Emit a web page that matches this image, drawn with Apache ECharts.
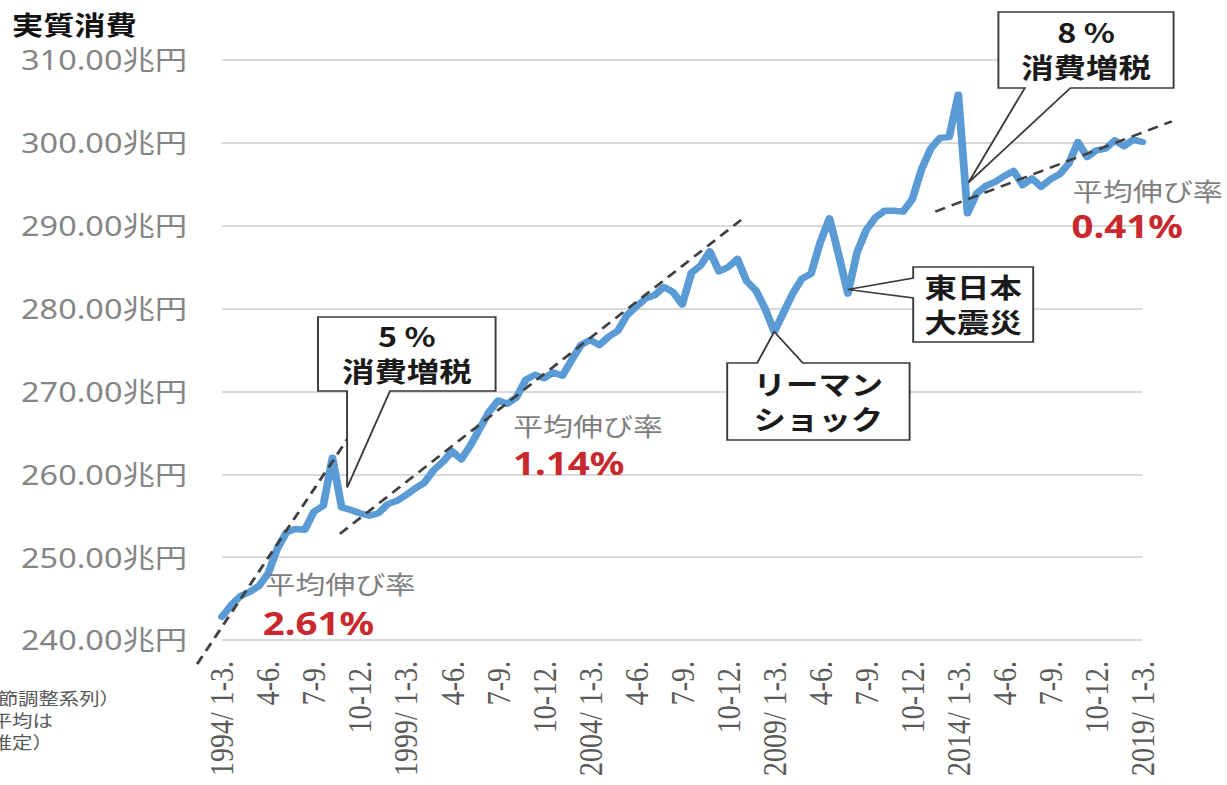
<!DOCTYPE html>
<html>
<head>
<meta charset="utf-8">
<script src="https://cdn.jsdelivr.net/npm/echarts@6/dist/echarts.min.js"></script>
<style>
  html, body { margin: 0; padding: 0; background: #fff; overflow: hidden; }
  #chart { width: 1023px; height: 785px; transform: scaleX(1.2); transform-origin: 0 0; }
</style>
</head>
<body>
<div id="chart"></div>
<script>
// Real consumption, quarterly (seasonally adjusted), 1994 Q1 – 2019 Q1, in trillion yen
const tickLabels = ['1994/ 1-3.', '4-6.', '7-9.', '10-12.', '1999/ 1-3.', '4-6.', '7-9.', '10-12.',
  '2004/ 1-3.', '4-6.', '7-9.', '10-12.', '2009/ 1-3.', '4-6.', '7-9.', '10-12.',
  '2014/ 1-3.', '4-6.', '7-9.', '10-12.', '2019/ 1-3.'];

const consumption = [
  242.8, 244.2, 245.3, 245.8, 246.5, 248.0, 251.0, 253.0, 253.4, 253.3, 255.5, 256.2, 262.0,
  256.0, 255.7, 255.3, 255.0, 255.3, 256.4, 256.8, 257.5,
  258.3, 259.0, 260.5, 261.5, 262.8, 261.8, 263.5,
  265.5, 267.5, 268.9, 268.5, 269.3, 271.4, 272.0, 271.6, 272.3, 271.9, 273.8, 275.6, 276.2,
  275.6, 276.6, 277.3, 279.2, 280.2, 281.2, 281.6, 282.6, 282.0, 280.5, 284.3, 285.2, 286.9,
  284.5, 285.0, 286.0, 283.3, 282.2, 280.0, 277.2,
  279.5, 281.8, 283.6, 284.2, 288.0, 290.9, 286.5, 281.8, 286.8, 289.5, 291.0, 291.8, 291.8,
  291.7, 293.2, 296.8, 299.3, 300.6, 300.7, 305.8, 291.5,
  293.9, 294.8, 295.3, 296.0, 296.6, 294.9, 295.7, 294.7, 295.6, 296.2, 297.5, 300.1, 298.3,
  299.1, 299.3, 300.3, 299.6, 300.4, 300.1
];

// Trend lines (quarter index, trillion yen) for the three periods
const trend1994 = [[-2.7, 237.1], [14.2, 265.2]];
const trend1997 = [[12.8, 252.8], [56.4, 290.7]];
const trend2014 = [[77.5, 291.7], [103.2, 302.6]];

// Average growth rates shown beside each trend
const growthRates = ['2.61%', '1.14%', '0.41%'];

const chart = echarts.init(document.getElementById('chart'), null, { renderer: 'svg' });

// Main plot area; the trend lines live on a wider twin grid with the same scale
// so that they can run past the plotted range.
const G = { left: 185, right: 71, top: 60, bottom: 145 };
const X0 = 0, X1 = 100, Y0 = 240, Y1 = 310;
const pxPerX = (1023 - G.left - G.right) / (X1 - X0);
const pxPerY = (785 - G.top - G.bottom) / (Y1 - Y0);
const XE0 = -5, XE1 = 105, YE0 = 235;

const dashStyle = { color: '#404040', width: 2.5, type: [9, 6] };

chart.setOption({
  backgroundColor: '#fff',
  animation: false,
  title: {
    text: '実質消費',
    left: 5, top: 6,
    textStyle: { fontSize: 26, fontWeight: 'bold', color: '#111', fontFamily: "'Noto Sans CJK JP', sans-serif" }
  },
  grid: [
    G,
    {
      left: G.left - (X0 - XE0) * pxPerX,
      right: G.right - (XE1 - X1) * pxPerX,
      top: G.top,
      bottom: G.bottom - (Y0 - YE0) * pxPerY
    }
  ],
  xAxis: [
    {
      type: 'value', min: X0, max: X1, interval: 5,
      axisLine: { show: false }, axisTick: { show: false }, splitLine: { show: false },
      axisLabel: {
        rotate: 90, margin: 21, fontSize: 28, color: '#595959',
        fontFamily: "'Liberation Serif', serif",
        showMinLabel: true, showMaxLabel: true,
        formatter: v => tickLabels[Math.round(v / 5)]
      }
    },
    { type: 'value', gridIndex: 1, min: XE0, max: XE1, show: false }
  ],
  yAxis: [
    {
      type: 'value', min: Y0, max: Y1, interval: 10,
      axisLine: { show: false }, axisTick: { show: false },
      splitLine: { lineStyle: { color: '#d9d9d9', width: 2 } },
      axisLabel: {
        margin: 29, fontSize: 27, color: '#858585',
        fontFamily: "'Noto Sans', 'Noto Sans CJK JP', sans-serif",
        formatter: v => v.toFixed(2) + '兆円'
      }
    },
    { type: 'value', gridIndex: 1, min: YE0, max: Y1, show: false }
  ],
  series: [
    {
      type: 'line', name: '実質消費', symbol: 'none', z: 3,
      data: consumption.map((v, i) => [i, v]),
      lineStyle: { color: '#5b9bd5', width: 6.5, cap: 'round', join: 'round' }
    },
    { type: 'line', symbol: 'none', z: 4, xAxisIndex: 1, yAxisIndex: 1, data: trend1994, lineStyle: dashStyle },
    { type: 'line', symbol: 'none', z: 4, xAxisIndex: 1, yAxisIndex: 1, data: trend1997, lineStyle: dashStyle },
    { type: 'line', symbol: 'none', z: 4, xAxisIndex: 1, yAxisIndex: 1, data: trend2014, lineStyle: dashStyle }
  ]
});

const px = p => chart.convertToPixel({ gridIndex: 0 }, p);

// Callout box with a pointer leaving one of its edges; two-line caption centred in the box
function callout(box, side, n1, n2, tip, caption, midY) {
  const { x, y, w, h } = box;
  let pts;
  if (side === 'bottom') {
    pts = [[x, y], [x + w, y], [x + w, y + h], [n2, y + h], tip, [n1, y + h], [x, y + h]];
  } else if (side === 'top') {
    pts = [[x, y], [n1, y], tip, [n2, y], [x + w, y], [x + w, y + h], [x, y + h]];
  } else {
    pts = [[x, y], [x + w, y], [x + w, y + h], [x, y + h], [x, n2], tip, [x, n1]];
  }
  return [
    {
      type: 'polygon', z: 100,
      shape: { points: pts },
      style: { fill: '#fff', stroke: '#3a3a3a', lineWidth: 1.6 }
    },
    {
      type: 'text', z: 101,
      style: {
        text: caption, x: x + w / 2, y: midY,
        textAlign: 'center', textVerticalAlign: 'middle', lineHeight: 35,
        font: "bold 27px 'Noto Sans CJK JP', sans-serif", fill: '#1a1a1a'
      }
    }
  ];
}

function note(text, x, y, font, fill, align) {
  return {
    type: 'text', z: 101,
    style: { text, x, y, textAlign: align || 'left', textVerticalAlign: 'middle', font, fill }
  };
}

const grayFont = "25px 'Noto Sans CJK JP', sans-serif";
const redFont = "bold 32px 'Noto Sans', 'Noto Sans CJK JP', sans-serif";
const noteFont = "17px 'Noto Sans CJK JP', sans-serif";

const elements = [].concat(
  callout({ x: 265, y: 317, w: 148, h: 74 }, 'bottom', 289.2, 325, px([13.6, 258.4]), '5 %\n消費増税', 353),
  callout({ x: 606, y: 363, w: 152, h: 77 }, 'top', 631, 669, px([60, consumption[60]]), 'リーマン\nショック', 401),
  callout({ x: 761, y: 267, w: 100, h: 75 }, 'left', 278, 298, px([68, consumption[68] + 0.5]), '東日本\n大震災', 304),
  callout({ x: 832, y: 12, w: 146, h: 76 }, 'bottom', 854, 892, px([81.1, 295.2]), '8 %\n消費増税', 49),
  [
    note('平均伸び率', 221, 583, grayFont, '#7f7f7f'),
    note(growthRates[0], 219, 622, redFont, '#c8282e'),
    note('平均伸び率', 427.5, 425, grayFont, '#7f7f7f'),
    note(growthRates[1], 427.5, 462, redFont, '#c8282e'),
    note('平均伸び率', 894, 190, grayFont, '#7f7f7f'),
    note(growthRates[2], 893, 225, redFont, '#c8282e'),
    note('（季節調整系列）', 100, 697, noteFont, '#595959', 'right'),
    note('（年平均は', 44, 719, noteFont, '#595959', 'right'),
    note('推定）', 44, 741, noteFont, '#595959', 'right')
  ]
);

chart.setOption({ graphic: { elements } });
</script>
</body>
</html>
